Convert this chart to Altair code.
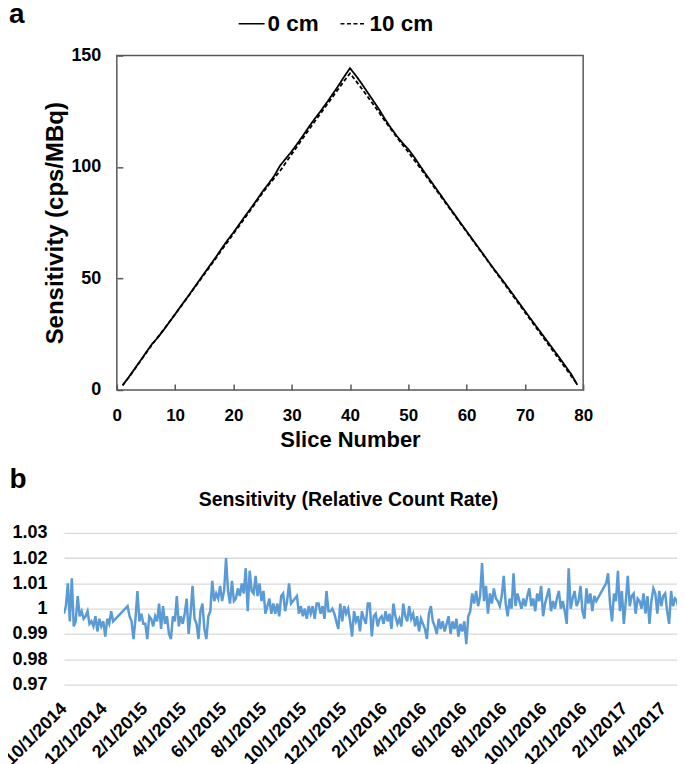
import altair as alt
import pandas as pd

FONT = "Liberation Sans"

# ---------------- panel a data ----------------
slices = list(range(1, 80))
sens_0cm = [2.2, 5.6, 9.3, 13.0, 16.8, 20.5, 23.4, 26.8, 30.4, 34.0,
            37.7, 41.2, 44.9, 48.6, 52.3, 56.0, 59.6, 63.5, 67.2, 70.6,
            74.3, 78.0, 81.5, 85.2, 89.0, 92.4, 96.0, 100.6, 103.8, 107.0,
            110.6, 114.3, 118.2, 121.8, 125.2, 128.8, 132.6, 136.4, 140.5, 144.3,
            141.0, 137.4, 133.5, 129.7, 125.8, 121.5, 117.6, 114.0, 110.8, 108.0,
            104.5, 100.6, 96.8, 93.2, 89.5, 85.8, 82.1, 78.5, 74.8, 71.2,
            67.6, 64.0, 60.4, 56.7, 53.2, 49.8, 46.3, 42.7, 39.1, 35.5,
            31.9, 28.4, 24.9, 21.3, 17.8, 14.2, 10.6, 6.9, 2.3]
sens_10cm = [2.0, 5.5, 9.1, 12.8, 16.5, 20.2, 23.6, 27.0, 30.5, 34.0,
             37.5, 41.1, 44.7, 48.3, 51.9, 55.5, 59.1, 62.8, 66.4, 70.0,
             73.6, 77.2, 80.9, 84.6, 88.3, 91.8, 95.0, 98.2, 102.0, 105.7,
             109.5, 113.2, 116.9, 120.6, 124.2, 127.8, 131.4, 135.0, 138.6, 142.0,
             138.7, 135.2, 131.6, 128.0, 124.4, 120.6, 117.0, 113.5, 110.0, 106.7,
             103.2, 99.7, 96.1, 92.5, 88.9, 85.3, 81.7, 78.1, 74.5, 70.9,
             67.3, 63.7, 60.1, 56.5, 52.9, 49.3, 45.7, 42.1, 38.5, 34.9,
             31.3, 27.7, 24.1, 20.5, 16.9, 13.3, 9.7, 6.1, 2.5]
series_names = ["0 cm", "10 cm"]
y_ticks_a = [0, 50, 100, 150]
x_ticks_a = [0, 10, 20, 30, 40, 50, 60, 70, 80]

# ---------------- panel b data (one reading every 3 days) ----------------
seg1_start = "2014-10-01"
seg1_vals = [0.998, 1.001, 1.010, 0.995, 1.012, 0.993, 0.995, 1.005, 0.997, 0.999,
             0.996, 0.997, 0.999, 0.994, 0.995, 0.993, 0.997, 0.991, 0.996, 0.993,
             0.995, 0.989, 0.996, 0.994, 0.999, 0.995]
seg2_start = "2015-01-06"
seg2_vals = [1.001, 0.997, 0.995, 0.988, 0.996, 1.007, 0.995, 0.998, 0.994, 0.994,
             0.988, 0.997, 0.996, 0.993, 0.997, 0.995, 1.002, 0.992, 1.001, 0.994,
             0.997, 0.990, 0.988, 0.997, 0.995, 1.005, 0.993, 0.997, 0.994, 0.998,
             1.004, 0.990, 0.998, 1.009, 0.996, 0.994, 0.988, 0.999, 1.002, 0.992,
             0.988, 0.997, 0.999, 1.011, 1.003, 1.006, 1.004, 1.009, 1.003, 1.007,
             1.020, 1.007, 1.002, 1.011, 1.003, 1.004, 1.008, 1.005, 1.010, 1.006,
             1.016, 0.999, 1.015, 1.007, 1.006, 1.013, 1.005, 1.010, 1.003, 1.007,
             0.998, 1.001, 1.004, 0.998, 1.002, 0.998, 1.002, 0.997, 1.005, 1.006,
             0.999, 1.003, 1.010, 1.002, 1.003, 1.004, 1.005, 0.998, 1.001, 0.997,
             1.000, 0.996, 1.001, 0.998, 1.001, 0.996, 1.002, 1.002, 0.998, 1.001,
             0.996, 1.007, 0.999, 0.999, 1.000, 0.998, 0.995, 0.992, 1.002, 0.995,
             1.001, 0.998, 1.000, 0.995, 0.989, 0.999, 0.995, 0.997, 0.991, 0.999,
             0.996, 0.994, 1.002, 1.002, 0.989, 0.997, 0.998, 0.993, 0.996, 0.997,
             0.994, 0.999, 0.995, 0.998, 0.992, 1.002, 0.997, 0.994, 0.996, 0.993,
             1.002, 0.997, 0.995, 1.001, 0.996, 0.998, 0.993, 0.997, 0.991, 0.996,
             0.994, 0.992, 0.988, 0.998, 1.001, 0.995, 0.993, 0.990, 0.996, 0.992,
             0.995, 0.991, 0.994, 0.997, 0.990, 0.995, 0.992, 0.996, 0.989, 0.994,
             0.991, 0.995, 0.986, 0.997, 0.999, 1.006, 1.002, 1.007, 1.001, 1.005,
             1.018, 1.003, 1.009, 0.998, 1.006, 1.002, 1.008, 1.004, 1.003, 1.001,
             1.005, 1.013, 1.002, 0.997, 1.004, 1.000, 1.014, 1.001, 1.006, 1.003,
             1.000, 1.004, 1.001, 1.005, 1.008, 1.001, 1.004, 0.999, 1.006, 1.003,
             1.009, 0.997, 1.002, 1.005, 1.008, 0.999, 1.003, 1.000, 1.004, 1.007,
             1.000, 1.003, 0.999, 0.994, 1.016, 1.000, 1.004, 1.007, 1.001, 1.003,
             1.009, 0.999, 0.996, 1.008, 1.002, 1.006, 0.999, 1.005, 1.003]
seg3_start = "2017-01-04"
seg3_vals = [1.010, 1.014, 1.002, 0.995, 1.006, 1.003, 1.015, 0.999, 1.007, 0.994,
             1.003, 1.013, 1.001, 1.005, 1.006, 0.998, 1.004, 1.003, 1.000, 1.006,
             0.998, 1.005, 0.994, 1.003, 1.008, 1.006, 0.998, 1.007, 1.001, 1.005,
             1.006, 0.999, 0.994, 1.007, 1.001, 1.004, 1.003, 0.999, 0.998, 1.006,
             1.004]
step_days = "3D"
x_tick_dates = [(2014, 10), (2014, 12), (2015, 2), (2015, 4), (2015, 6), (2015, 8),
                (2015, 10), (2015, 12), (2016, 2), (2016, 4), (2016, 6), (2016, 8),
                (2016, 10), (2016, 12), (2017, 2), (2017, 4)]
y_ticks_b = [0.97, 0.98, 0.99, 1.0, 1.01, 1.02, 1.03]

# ---------------- tables ----------------
df_a = pd.DataFrame({
    "slice": slices * 2,
    "sens": sens_0cm + sens_10cm,
    "series": [series_names[0]] * len(slices) + [series_names[1]] * len(slices),
})

parts = []
for start, vals in [(seg1_start, seg1_vals), (seg2_start, seg2_vals), (seg3_start, seg3_vals)]:
    d = pd.date_range(start, periods=len(vals), freq=step_days)
    parts.append(pd.DataFrame({"date": d.strftime("%Y/%m/%d"), "value": vals}))
df_b = pd.concat(parts, ignore_index=True)

# ---------------- panel a ----------------
bold = dict(labelFont=FONT, labelFontWeight="bold", labelColor="black",
            titleFont=FONT, titleFontWeight="bold", titleColor="black")
xs_a = alt.Scale(domain=[0, 80], range=[53, 520], nice=False, zero=False)
ys_a = alt.Scale(domain=[0, 150], nice=False)

lines_a = alt.Chart(df_a).mark_line(color="black", strokeWidth=1.8).encode(
    x=alt.X("slice:Q", scale=xs_a,
            axis=alt.Axis(orient="bottom", values=x_ticks_a, offset=-6, tickSize=6,
                          tickColor="#595959", tickWidth=1.5, domain=False, grid=False,
                          labelFontSize=17, labelPadding=17.5, labelFlush=False,
                          title="Slice Number", titleFontSize=22, titlePadding=6.5, **bold)),
    y=alt.Y("sens:Q", scale=ys_a,
            axis=alt.Axis(orient="left", values=y_ticks_a, offset=-59, tickSize=6,
                          tickColor="#595959", tickWidth=1.5, domain=False, grid=False,
                          labelFontSize=18, labelPadding=16, labelFlush=False,
                          title="Sensitivity (cps/MBq)", titleFontSize=24, titlePadding=3, **bold)),
    strokeDash=alt.StrokeDash(
        "series:N",
        scale=alt.Scale(domain=series_names, range=[[1, 0], [4, 2.5]]),
        legend=alt.Legend(title=None, orient="none", legendX=174, legendY=-46,
                          direction="horizontal", symbolType="stroke", symbolSize=676,
                          symbolStrokeWidth=1.6, symbolStrokeColor="black",
                          labelFont=FONT, labelFontSize=22.5, labelFontWeight="bold",
                          labelColor="black", labelOffset=2, columnPadding=17, padding=0)),
)

frame_a = alt.Chart(pd.DataFrame({"k": [0]})).mark_rect(
    fillOpacity=0, stroke="#595959", strokeWidth=1.5
).encode(
    x=alt.datum(0), x2=alt.datum(80),
    y=alt.datum(0), y2=alt.datum(150),
)

panel_a = alt.layer(lines_a, frame_a).properties(
    width=520, height=335,
    title=alt.TitleParams("a", anchor="start", frame="group", dx=-55, offset=-4.5,
                          baseline="alphabetic", font=FONT, fontSize=28,
                          fontWeight="bold", color="black"),
)

# ---------------- panel b ----------------
tick_vals = [alt.DateTime(year=y, month=m, date=1) for y, m in x_tick_dates]
xs_b = alt.Scale(domain=[alt.DateTime(year=2014, month=10, date=1),
                         alt.DateTime(year=2017, month=4, date=22)], nice=False)

panel_b = alt.Chart(df_b).mark_line(color="#5B9BD5", strokeWidth=2.5, clip=True).encode(
    x=alt.X("date:T", scale=xs_b,
            axis=alt.Axis(values=tick_vals, format="%-m/%-d/%Y", labelAngle=-45,
                          labelAlign="right", labelBaseline="middle", ticks=False, tickSize=0,
                          domain=False, grid=False, labelFontSize=18, labelPadding=21,
                          labelFlush=False, labelOverlap=False, title=None, **bold)),
    y=alt.Y("value:Q", scale=alt.Scale(domain=[0.97, 1.03], nice=False, zero=False),
            axis=alt.Axis(values=y_ticks_b, format="~g", grid=True, gridColor="#d9d9d9",
                          gridWidth=1.3, domain=False, ticks=False, tickSize=0,
                          labelFontSize=18, labelPadding=17, labelFlush=False,
                          title="b", titleAngle=0, titleX=-55, titleY=-45, titleAlign="left",
                          titleBaseline="alphabetic", titleFontSize=28, **bold)),
).properties(
    width=614, height=152,
    title=alt.TitleParams("Sensitivity (Relative Count Rate)", anchor="middle", frame="group",
                          dx=-22, baseline="alphabetic", offset=-60, font=FONT, fontSize=19.5,
                          fontWeight="bold", color="black"),
)

chart = alt.vconcat(panel_a, panel_b, spacing=15).properties(
    padding={"top": -8, "left": -7, "right": 0, "bottom": 0}
).configure(font=FONT).configure_view(stroke=None)

chart.save("out.html", embed_options={"renderer": "svg", "actions": False})
